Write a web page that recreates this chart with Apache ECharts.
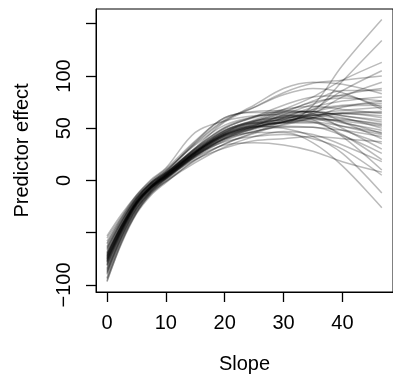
<!DOCTYPE html>
<html>
<head>
<meta charset="utf-8">
<script src="https://cdn.jsdelivr.net/npm/echarts@6/dist/echarts.min.js"></script>
<style>
html,body{margin:0;padding:0;background:#fff;}
#chart{width:393px;height:379px;}
</style>
</head>
<body>
<div id="chart"></div>
<script>
// x positions (Slope) at which each bootstrap curve is sampled
const slopeValues = [0, 2.5, 5, 7.5, 10, 15, 20, 25, 30, 35, 40, 46.7];

// predictor effect curves
const effectCurves = [
  [-70,-43,-20,-5,6,28,46,55,55,72,110,154],
  [-78,-48,-23,-7,4,26,43,52,56,66,95,134],
  [-66,-40,-18,-3,7,30,48,58,68,80,96,113],
  [-82,-50,-25,-8,3,25,42,50,58,68,86,105],
  [-74,-45,-21,-5,6,31,56,70,84,93,96,100],
  [-88,-54,-28,-10,2,24,40,49,56,64,80,94],
  [-72,-44,-21,-6,5,27,46,56,65,76,86,86],
  [-60,-36,-16,-2,9,35,57,72,88,94,92,83],
  [-93,-57,-30,-12,0,22,38,47,53,60,70,76],
  [-76,-46,-22,-6,5,27,44,54,61,66,71,72],
  [-64,-39,-17,-2,8,36,58,70,82,88,84,68],
  [-84,-51,-26,-9,3,25,42,51,57,62,65,66],
  [-75,-46,-22,-6,5,27,45,54,60,63,64,62],
  [-97,-59,-31,-13,-1,19,35,46,56,62,64,60],
  [-58,-35,-15,-1,10,34,53,61,64,66,62,56],
  [-80,-49,-24,-7,4,26,44,53,59,62,59,53],
  [-71,-43,-20,-5,6,28,47,56,60,60,55,48],
  [-90,-55,-29,-11,1,23,40,50,56,60,56,45],
  [-67,-40,-18,-3,7,30,50,60,66,66,56,40],
  [-77,-47,-22,-7,4,26,43,51,55,55,48,35],
  [-55,-34,-14,0,11,38,60,66,67,64,50,30],
  [-86,-53,-27,-10,2,23,39,47,51,51,43,26],
  [-75,-46,-22,-6,5,27,44,53,58,56,44,20],
  [-69,-42,-19,-4,7,29,48,57,62,58,42,10],
  [-94,-58,-31,-12,-1,17,32,42,47,44,34,18],
  [-81,-49,-24,-8,3,24,37,42,44,40,30,5],
  [-73,-44,-21,-6,5,27,45,52,50,42,26,-12],
  [-79,-48,-23,-7,4,25,40,46,46,36,14,-26],
  [-63,-38,-17,-2,8,31,51,61,72,80,81,70],
  [-85,-52,-26,-9,2,24,41,52,63,73,82,88],
  [-71,-43,-20,-5,6,28,47,57,66,75,79,76],
  [-89,-55,-28,-11,1,23,40,50,60,70,76,80],
  [-74,-45,-21,-6,5,27,45,55,62,68,72,74],
  [-65,-39,-18,-3,7,31,50,61,68,71,68,64],
  [-81,-50,-24,-8,3,25,43,53,59,64,67,70],
  [-61,-37,-16,-2,9,37,60,65,65,66,62,58],
  [-87,-53,-27,-10,2,24,41,51,56,58,58,54],
  [-73,-44,-21,-6,5,27,44,51,52,51,48,42],
  [-77,-47,-22,-7,3,20,31,38,40,42,40,37],
  [-69,-42,-19,-4,7,29,48,57,61,63,60,50],
  [-53,-32,-14,1,12,46,57,62,63,60,52,44],
  [-96,-60,-32,-14,-2,20,35,45,54,60,64,65],
  [-78,-47,-23,-7,4,26,43,52,56,56,52,46],
  [-72,-43,-20,-5,6,28,46,55,58,59,57,52],
  [-76,-46,-22,-7,4,22,34,36,34,28,18,8]
];

const xTickValues = [0, 10, 20, 30, 40];
const yTickValues = [-100, -50, 0, 50, 100, 150];
const yLabelValues = [-100, 0, 50, 100];

const chart = echarts.init(document.getElementById('chart'), null, {renderer: 'canvas'});
const FONT = '"Liberation Sans", Arial, sans-serif';

const series = effectCurves.map(function (curve) {
  return {
    type: 'line',
    data: curve.map(function (v, i) { return [slopeValues[i], v]; }),
    showSymbol: false,
    smooth: 0.35,
    silent: true,
    lineStyle: {color: 'rgba(0,0,0,0.27)', width: 1.5},
    z: 2
  };
});

chart.setOption({
  animation: false,
  backgroundColor: '#fff',
  grid: {left: 96, top: 9, width: 298, height: 286, show: true, borderColor: '#000', borderWidth: 1, backgroundColor: 'transparent'},
  xAxis: {
    type: 'value', min: -1.87, max: 48.6,
    name: 'Slope', nameLocation: 'middle', nameGap: 62,
    nameTextStyle: {fontFamily: FONT, fontSize: 20, color: '#000'},
    axisLine: {show: true, onZero: false, lineStyle: {color: '#000', width: 1}},
    axisTick: {show: true, inside: false, length: 10, customValues: xTickValues, lineStyle: {color: '#000', width: 1.3}},
    axisLabel: {show: true, customValues: xTickValues, margin: 21, fontFamily: FONT, fontSize: 20, color: '#000'},
    splitLine: {show: false}
  },
  yAxis: {
    type: 'value', min: -106.7, max: 164.1,
    name: 'Predictor effect', nameLocation: 'middle', nameGap: 64, nameRotate: 90,
    nameTextStyle: {fontFamily: FONT, fontSize: 20, color: '#000'},
    axisLine: {show: true, onZero: false, lineStyle: {color: '#000', width: 1}},
    axisTick: {show: true, inside: false, length: 10, customValues: yTickValues, lineStyle: {color: '#000', width: 1.3}},
    axisLabel: {show: true, customValues: yLabelValues, rotate: 90, margin: 22, fontFamily: FONT, fontSize: 20, color: '#000',
      formatter: function (v) { return String(v).replace('-', '\u2212'); }},
    splitLine: {show: false}
  },
  series: series
});
</script>
</body>
</html>
